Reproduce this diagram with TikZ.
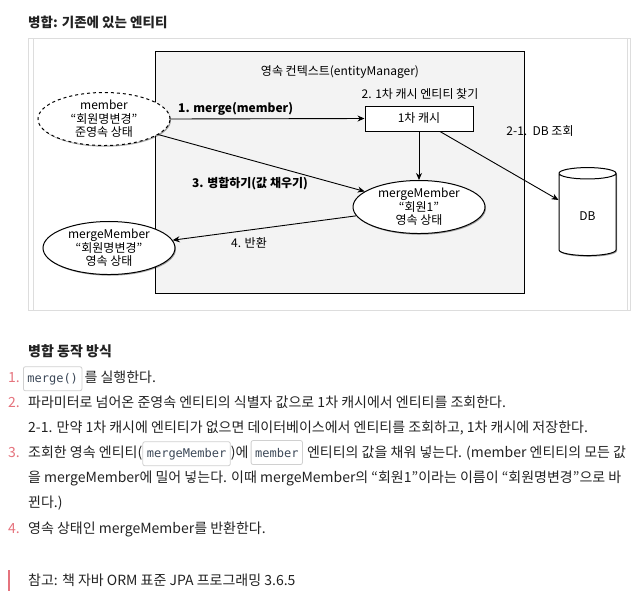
\documentclass[tikz,border=0pt]{standalone}
\usepackage{fontspec}
\setmainfont{Noto Sans CJK KR}
\setmonofont{DejaVu Sans Mono}
\usepackage{tikz}
\usetikzlibrary{arrows.meta,positioning,calc,shapes.geometric,shadows}

\definecolor{numred}{RGB}{229,115,125}
\definecolor{framegray}{RGB}{221,221,221}
\definecolor{codeline}{RGB}{208,208,208}
\definecolor{ctxfill}{RGB}{243,243,243}
\definecolor{codegray}{RGB}{60,72,88}
\definecolor{bodyblack}{RGB}{34,34,34}

\tikzset{
  dropshade/.style={drop shadow={shadow xshift=1pt,shadow yshift=-1.2pt,opacity=0.35,fill=black}},
  entity/.style={ellipse,draw,line width=1pt,fill=white,minimum width=132,minimum height=53,inner sep=0pt,align=center,font=\fontsize{12}{13.5}\selectfont,dropshade},
  flow/.style={-{Stealth[length=7pt,width=6pt]},line width=0.9pt},
  lbl/.style={inner sep=0pt,font=\fontsize{12}{14}\selectfont},
  body/.style={anchor=base west,inner sep=0pt,text=bodyblack,font=\fontsize{14}{16}\selectfont},
  num/.style={body,text=numred},
  code/.style={anchor=base west,draw=codeline,line width=0.8pt,fill=white,rounded corners=2pt,inner xsep=4pt,inner ysep=0pt,minimum height=24,text=codegray,font=\ttfamily\fontsize{12}{14}\selectfont},
}

\begin{document}
\begin{tikzpicture}[x=1pt,y=-1pt]
  \useasboundingbox (0,0) rectangle (644,603); % 画像全体の大きさ
  \node[anchor=base west,inner sep=0pt,text=bodyblack,font=\bfseries\fontsize{13.5}{15}\selectfont] (title) at (28,27) {병합: 기존에 있는 엔티티}; % 図のタイトル

  \draw[framegray] (28,38) rectangle (630,310); % 図の外枠
  \draw[framegray] (33,38) -- (33,310); % 外枠の内側の縦線（左）
  \draw[framegray] (627,38) -- (627,310); % 外枠の内側の縦線（右）
  \draw[line width=1pt,fill=ctxfill,dropshade] (155,51) rectangle (524,293); % 永続性コンテキストの箱

  \node[lbl] (ctxlabel) at (340,72) {영속 컨텍스트(entityManager)}; % コンテキストの名前
  \node[lbl] (findlabel) at (420,94) {2. 1차 캐시 엔티티 찾기}; % 手順2のラベル
  \node[draw,line width=1pt,fill=white,minimum width=108,minimum height=25,font=\fontsize{12}{14}\selectfont,dropshade] (cache) at (419,118.5) {1차 캐시}; % 1次キャッシュ
  \node[lbl] (dblabel) at (540,131) {2-1.\ \ DB 조회}; % 手順2-1のラベル
  \node[cylinder,shape border rotate=90,draw,line width=1pt,fill=white,minimum width=57,minimum height=88,aspect=0.5,font=\fontsize{12}{14}\selectfont,dropshade] (db) at (587.5,216) {DB}; % データベース

  \node[entity,dashed] (member) at (104,119) {member\\“회원명변경”\\준영속 상태}; % 準永続状態のエンティティ
  \node[entity] (mm) at (419,207) {mergeMember\\“회원1”\\영속 상태}; % キャッシュ内の永続エンティティ
  \node[entity] (mmout) at (109,248) {mergeMember\\“회원명변경”\\영속 상태}; % 返される永続エンティティ

  \draw[flow] (member.east) -- (cache.west); % 手順1の矢印
  \draw[flow] (cache.south) -- (mm.north); % 手順2の矢印
  \draw[flow] ([xshift=21pt]cache.south) -- ([yshift=16pt]db.west); % 手順2-1の矢印
  \draw[flow] (member.-16) -- (mm.164); % 手順3の矢印
  \draw[flow] (mm.188) -- (mmout.7); % 手順4の矢印

  \node[lbl,anchor=west,font=\bfseries\fontsize{12}{14}\selectfont] (mergelabel) at (178,109) {1. merge(member)}; % 手順1のラベル
  \node[lbl,font=\bfseries\fontsize{12}{14}\selectfont] (filllabel) at (250,184) {3. 병합하기(값 채우기)}; % 手順3のラベル
  \node[lbl] (retlabel) at (249,243) {4. 반환}; % 手順4のラベル

  \node[body,font=\bfseries\fontsize{14}{16}\selectfont] (howto) at (28,356) {병합 동작 방식}; % 本文の見出し
  \node[num] (n1) at (8,382) {1.}; % 項目1の番号
  \node[code] (c1) at (23,382) {merge()}; % 項目1のコード
  \node[body] (t1) at ([xshift=2pt]c1.base east) {를 실행한다.}; % 項目1の本文
  \node[num] (n2) at (8,407) {2.}; % 項目2の番号
  \node[body] (t2) at (28,407) {파라미터로 넘어온 준영속 엔티티의 식별자 값으로 1차 캐시에서 엔티티를 조회한다.}; % 項目2の本文
  \node[body] (t2a) at (28,432) {2-1. 만약 1차 캐시에 엔티티가 없으면 데이터베이스에서 엔티티를 조회하고, 1차 캐시에 저장한다.}; % 項目2-1の本文
  \node[num] (n3) at (8,457) {3.}; % 項目3の番号
  \node[body] (t3a) at (28,457) {조회한 영속 엔티티(}; % 項目3の本文（前）
  \node[code] (c3a) at (t3a.base east) {mergeMember}; % 項目3のコード1
  \node[body] (t3b) at (c3a.base east) {)에}; % 項目3の本文（中）
  \node[code] (c3b) at ([xshift=2pt]t3b.base east) {member}; % 項目3のコード2
  \node[body] (t3c) at ([xshift=4pt]c3b.base east) {엔티티의 값을 채워 넣는다. (member 엔티티의 모든 값}; % 項目3の本文（後）
  \node[body] (t3d) at (28,482) {을 mergeMember에 밀어 넣는다. 이때 mergeMember의 “회원1”이라는 이름이 “회원명변경”으로 바}; % 項目3の本文（2行目）
  \node[body] (t3e) at (28,507) {뀐다.)}; % 項目3の本文（3行目）
  \node[num] (n4) at (8,533) {4.}; % 項目4の番号
  \node[body] (t4) at (28,533) {영속 상태인 mergeMember를 반환한다.}; % 項目4の本文

  \draw[numred,line width=2pt] (9,570) -- (9,591); % 参考欄の縦線
  \node[body] (note) at (28,585) {참고: 책 자바 ORM 표준 JPA 프로그래밍 3.6.5}; % 参考文献
\end{tikzpicture}
\end{document}
